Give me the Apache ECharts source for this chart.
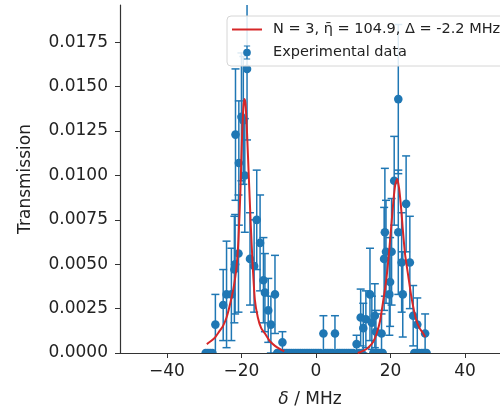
<!DOCTYPE html>
<html>
<head>
<meta charset="utf-8">
<script src="https://cdn.jsdelivr.net/npm/echarts@6/dist/echarts.min.js"></script>
<style>
  html, body { margin: 0; padding: 0; background: #fff; }
  #chart { width: 500px; height: 408px; }
</style>
</head>
<body>
<div id="chart"></div>
<script>
var fitName = 'N = 3, η\u0304 = 104.9, Δ = -2.2 MHz';
var dataName = 'Experimental data';

var xTicks = [-40, -20, 0, 20, 40];
var yTicks = [0, 0.0025, 0.005, 0.0075, 0.01, 0.0125, 0.015, 0.0175];

// fit curve, left and right resonance
var fitLeftX = [-29.3, -28, -27, -26, -25, -24, -23, -22, -21.3, -20.8, -20.3, -19.9, -19.5, -19.2, -18.9, -18.5, -18.0, -17.5, -17.0, -16.4, -15.6, -14.7, -13.7, -12.5, -11, -9.5, -8.5];
var fitLeftY = [0.0005, 0.0007, 0.0009, 0.0012, 0.0015, 0.0020, 0.0028, 0.0038, 0.0049, 0.0064, 0.0090, 0.0118, 0.0138, 0.0143, 0.0140, 0.0124, 0.0098, 0.0072, 0.0050, 0.0030, 0.0020, 0.0014, 0.0011, 0.0007, 0.0004, 0.0002, 0.0001];
var fitRightX = [11.2, 12.5, 14, 15.3, 16.3, 17.2, 18.1, 18.8, 19.5, 20.2, 20.8, 21.3, 21.8, 22.3, 22.8, 23.3, 23.9, 24.8, 25.5, 26.3, 27, 27.8, 28.8, 29.3];
var fitRightY = [0.0000, 0.0001, 0.0003, 0.0006, 0.0011, 0.0018, 0.0030, 0.0040, 0.0054, 0.0071, 0.0086, 0.0095, 0.0098, 0.0093, 0.0083, 0.0070, 0.0056, 0.0043, 0.0033, 0.0024, 0.0018, 0.0014, 0.0011, 0.0009];

// measured points with error
var expX = [
  -27.0, -24.9, -24.0, -22.7, -21.9, -21.7, -21.6, -20.8, -20.7, -20.0, -19.5, -19.1, -18.5,
  -17.7, -16.6, -15.9, -15.0, -14.1, -13.7, -12.8, -12.1, -11.0, -9.0,
  2.0, 5.1,
  10.9, 12.0, 12.7, 13.4, 14.5, 15.0, 15.8, 16.1, 17.6, 18.3, 18.5, 18.8, 19.7, 19.9, 20.3,
  21.0, 22.1, 22.1, 23.0, 23.3, 24.2, 25.2, 26.1, 27.2, 29.3
];
var expY = [
  0.0016, 0.0027, 0.0033, 0.0033, 0.0047, 0.0050, 0.0123, 0.0056, 0.0107, 0.0133, 0.0131, 0.0100, 0.0160,
  0.0053, 0.0049, 0.0075, 0.0062, 0.0041, 0.0034, 0.0024, 0.0016, 0.0033, 0.0006,
  0.0011, 0.0011,
  0.0005, 0.0020, 0.0014, 0.0019, 0.0033, 0.0017, 0.0021, 0.0012, 0.0011, 0.0053, 0.0068, 0.0057, 0.0033, 0.0040, 0.0057,
  0.0097, 0.0068, 0.0143, 0.0051, 0.0033, 0.0084, 0.0051, 0.0021, 0.0016, 0.0011
];
var expErr = [
  0.0017, 0.0020, 0.0030, 0.0026, 0.0030, 0.0028, 0.0037, 0.0033, 0.0035, 0.0036, 0.0036, 0.0032, 0.0040,
  0.0026, 0.0026, 0.0028, 0.0027, 0.0024, 0.0022, 0.0018, 0.0016, 0.0022, 0.0006,
  0.0010, 0.0010,
  0.0005, 0.0016, 0.0014, 0.0016, 0.0026, 0.0015, 0.0018, 0.0012, 0.0011, 0.0029, 0.0036, 0.0029, 0.0023, 0.0025, 0.0030,
  0.0025, 0.0035, 0.0042, 0.0028, 0.0024, 0.0027, 0.0026, 0.0017, 0.0015, 0.0011
];
// points that measured zero
var zeroX = [
  -29.6, -29.0, -28.4, -27.8,
  -10.4, -9.8, -8.4, -7.8, -7.2, -6.6, -6.0, -5.4, -4.8, -4.2, -3.6, -3.0, -2.4, -1.8, -1.2, -0.6,
  0.0, 0.6, 1.2, 2.6, 3.2, 3.8, 4.4, 5.8, 6.4, 7.0, 7.6, 8.2, 8.8, 9.4, 10.0, 11.6, 12.3,
  15.4, 16.6, 17.2, 17.9,
  26.4, 27.0, 27.7, 28.4, 29.0, 29.7
];

var blue = '#1f77b4';
var red = '#d62728';

function zip(xs, ys) {
  return xs.map(function (x, i) { return [x, ys[i]]; });
}

var points = expX.map(function (x, i) { return [x, expY[i], expErr[i]]; })
  .concat(zeroX.map(function (x) { return [x, 0, 0]; }));

function renderPoint(params, api) {
  var x = api.value(0), y = api.value(1), e = api.value(2);
  var c = api.coord([x, y]);
  var kids = [];
  var st = { stroke: blue, lineWidth: 1.5 };
  if (e > 0) {
    var t = api.coord([x, y + e]);
    var b = api.coord([x, y - e]);
    kids.push({ type: 'line', shape: { x1: c[0], y1: t[1], x2: c[0], y2: b[1] }, style: st });
    kids.push({ type: 'line', shape: { x1: c[0] - 4, y1: t[1], x2: c[0] + 4, y2: t[1] }, style: st });
    kids.push({ type: 'line', shape: { x1: c[0] - 4, y1: b[1], x2: c[0] + 4, y2: b[1] }, style: st });
  }
  kids.push({ type: 'circle', shape: { cx: c[0], cy: c[1], r: 4.3 }, style: { fill: blue } });
  return { type: 'group', children: kids };
}

var lineIcon = 'path://M0,0h30v2h-30z';
var errIcon = 'path://M9,0h2v20h-2z M5.5,0h9v1.6h-9z M5.5,18.4h9v1.6h-9z M4.5,10a5.5,5.5 0 1,1 11,0a5.5,5.5 0 1,1 -11,0z';

var chart = echarts.init(document.getElementById('chart'));
chart.setOption({
  animation: false,
  backgroundColor: '#fff',
  textStyle: { fontFamily: 'DejaVu Sans' },
  grid: { left: 120, right: 0, top: 5, bottom: 55, outerBoundsMode: 'none' },
  legend: {
    orient: 'vertical',
    left: 227,
    top: 16,
    padding: [6, 8, 6, 5],
    itemWidth: 30,
    itemHeight: 14,
    itemGap: 8,
    backgroundColor: 'rgba(255,255,255,0.85)',
    borderColor: '#d6d6d6',
    borderWidth: 1,
    borderRadius: 4,
    textStyle: { fontSize: 14.5, color: '#222', padding: [0, 0, 0, 6] },
    data: [
      { name: fitName, icon: lineIcon },
      { name: dataName, icon: errIcon }
    ]
  },
  xAxis: {
    type: 'value',
    min: -52.6,
    max: 49.4,
    name: '{i|δ} / MHz',
    nameLocation: 'middle',
    nameGap: 38,
    nameTextStyle: {
      fontSize: 17, color: '#222',
      rich: { i: { fontStyle: 'italic', fontSize: 17, color: '#222' } }
    },
    splitLine: { show: false },
    axisLine: { show: true, onZero: false, lineStyle: { color: '#333', width: 1.2 } },
    axisTick: { show: true, length: 5, customValues: xTicks, lineStyle: { color: '#333' } },
    axisLabel: {
      customValues: xTicks,
      margin: 10,
      fontSize: 17,
      color: '#222',
      formatter: function (v) { return String(v).replace('-', '\u2212'); }
    }
  },
  yAxis: {
    type: 'value',
    min: 0,
    max: 0.0196,
    name: 'Transmission',
    nameLocation: 'middle',
    nameGap: 86,
    nameTextStyle: { fontSize: 17, color: '#222' },
    splitLine: { show: false },
    axisLine: { show: true, onZero: false, lineStyle: { color: '#333', width: 1.2 } },
    axisTick: { show: true, length: 5, customValues: yTicks, lineStyle: { color: '#333' } },
    axisLabel: {
      customValues: yTicks,
      margin: 12,
      fontSize: 17,
      color: '#222',
      formatter: function (v) { return v.toFixed(4); }
    }
  },
  series: [
    {
      name: fitName, type: 'line', data: zip(fitLeftX, fitLeftY),
      symbol: 'none', smooth: 0.2, color: red,
      lineStyle: { color: red, width: 2 }
    },
    {
      name: fitName, type: 'line', data: zip(fitRightX, fitRightY),
      symbol: 'none', smooth: 0.2, color: red,
      lineStyle: { color: red, width: 2 }
    },
    {
      name: dataName, type: 'custom', data: points,
      clip: true, itemStyle: { color: blue },
      renderItem: renderPoint
    }
  ]
});
</script>
</body>
</html>
